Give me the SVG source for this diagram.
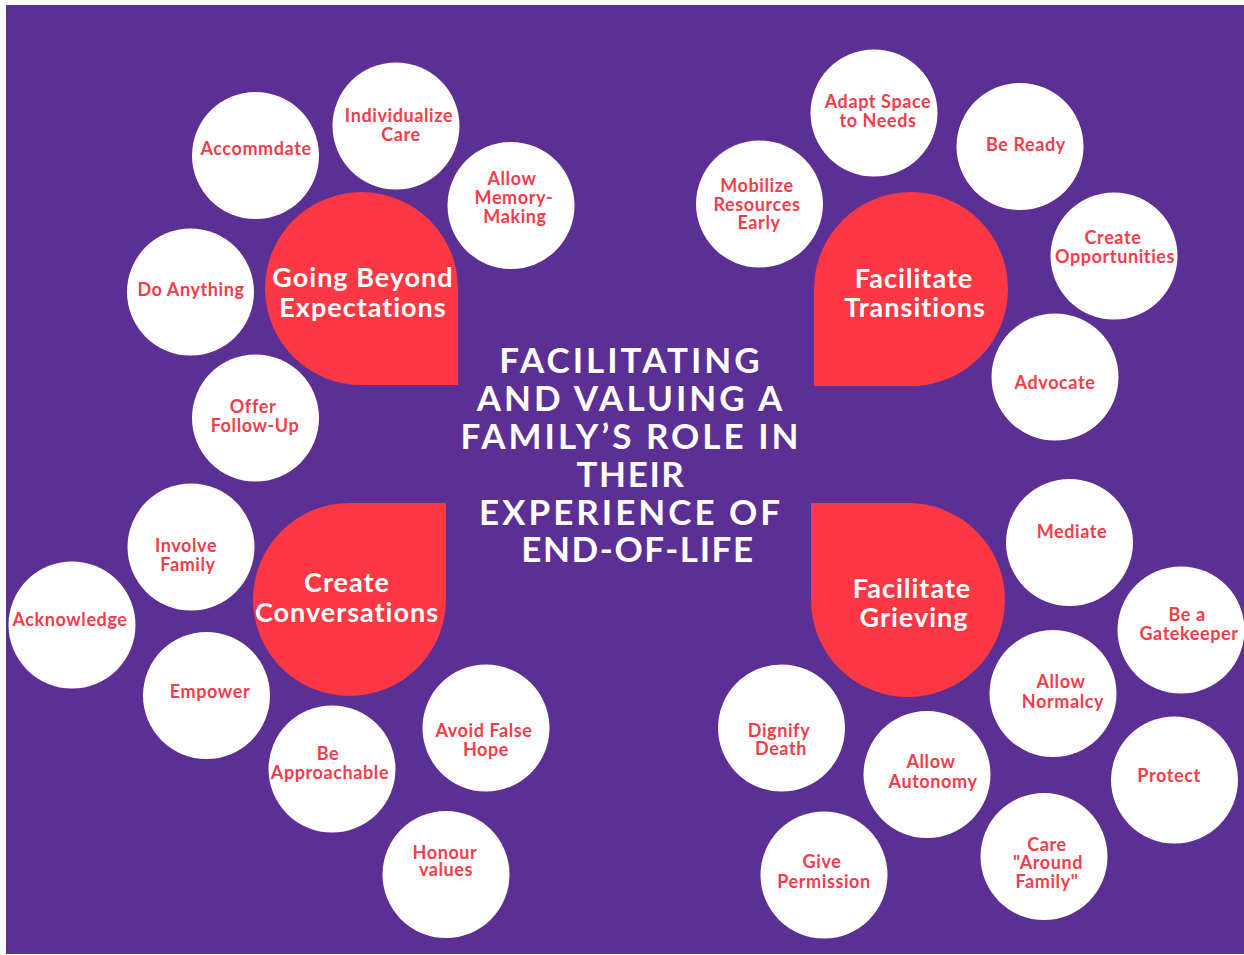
<svg xmlns="http://www.w3.org/2000/svg" width="1244" height="955" viewBox="0 0 1244 955">
  <style>
    .bubble circle { fill: #ffffff; }
    .bubble text { fill: #F33D4B; font-family: Lato, "Liberation Sans", sans-serif; font-weight: 700; font-size: 18px; text-anchor: middle; letter-spacing: 0.6px; }
    .hub path { fill: #FB3844; }
    .hub text { fill: #ffffff; font-family: Lato, "Liberation Sans", sans-serif; font-weight: 700; font-size: 27px; text-anchor: middle; letter-spacing: 1px; }
    .title text { fill: #ffffff; font-family: Lato, "Liberation Sans", sans-serif; font-weight: 700; font-size: 35px; text-anchor: middle; letter-spacing: 3px; }
    .title text.tight { letter-spacing: 1.6px; }
  </style>

  <!-- page background -->
  <rect x="0" y="0" width="1244" height="955" fill="#ffffff"/>
  <rect x="6" y="5" width="1238" height="949" fill="#5B2F94"/>

  <!-- central title -->
  <g id="title" class="title">
    <text x="631" y="373">FACILITATING</text>
    <text x="631" y="411">AND VALUING A</text>
    <text x="631" y="449">FAMILY’S ROLE IN</text>
    <text x="631" y="487" class="tight">THEIR</text>
    <text x="631" y="525">EXPERIENCE OF</text>
    <text x="638" y="562" class="tight">END-OF-LIFE</text>
  </g>

  <!-- four theme hubs (teardrop shapes, one square corner facing the title) -->
  <g id="hub-going-beyond" class="hub">
    <path d="M265 288.5 A96.5 96.5 0 0 1 458 288.5 L458 385 L361.5 385 A96.5 96.5 0 0 1 265 288.5 Z"/>
    <text x="363" y="287">Going Beyond</text>
    <text x="363" y="317">Expectations</text>
  </g>
  <g id="hub-transitions" class="hub">
    <path d="M814 289 A97 97 0 0 1 1008 289 A97 97 0 0 1 911 386 L814 386 Z"/>
    <text x="914" y="288">Facilitate</text>
    <text x="915" y="317">Transitions</text>
  </g>
  <g id="hub-conversations" class="hub">
    <path d="M253 599.5 A96.5 96.5 0 0 1 349.5 503 L446 503 L446 599.5 A96.5 96.5 0 0 1 253 599.5 Z"/>
    <text x="347" y="592">Create</text>
    <text x="347" y="622">Conversations</text>
  </g>
  <g id="hub-grieving" class="hub">
    <path d="M811 503 L908 503 A97 97 0 0 1 1005 600 A97 97 0 0 1 811 600 Z"/>
    <text x="912" y="598">Facilitate</text>
    <text x="914" y="627">Grieving</text>
  </g>

  <!-- Going Beyond Expectations -->
  <g id="accommdate" class="bubble">
    <circle cx="255.5" cy="155.5" r="63.5"/>
    <text x="256" y="155">Accommdate</text>
  </g>
  <g id="individualize-care" class="bubble">
    <circle cx="396" cy="126" r="63.5"/>
    <text x="399" y="122">Individualize</text>
    <text x="401" y="141">Care</text>
  </g>
  <g id="allow-memory-making" class="bubble">
    <circle cx="511" cy="205.5" r="63.5"/>
    <text x="512" y="185">Allow</text>
    <text x="514" y="204">Memory-</text>
    <text x="515" y="223">Making</text>
  </g>
  <g id="do-anything" class="bubble">
    <circle cx="190.5" cy="292" r="63.5"/>
    <text x="191" y="296">Do Anything</text>
  </g>
  <g id="offer-follow-up" class="bubble">
    <circle cx="255.5" cy="418" r="63.5"/>
    <text x="253" y="413">Offer</text>
    <text x="255" y="432">Follow-Up</text>
  </g>

  <!-- Facilitate Transitions -->
  <g id="adapt-space" class="bubble">
    <circle cx="874" cy="113" r="63.5"/>
    <text x="878" y="108">Adapt Space</text>
    <text x="878" y="127">to Needs</text>
  </g>
  <g id="be-ready" class="bubble">
    <circle cx="1020" cy="146.5" r="63.5"/>
    <text x="1026" y="151">Be Ready</text>
  </g>
  <g id="mobilize-resources" class="bubble">
    <circle cx="759.5" cy="204" r="63.5"/>
    <text x="757" y="192">Mobilize</text>
    <text x="757" y="211">Resources</text>
    <text x="759" y="229">Early</text>
  </g>
  <g id="create-opportunities" class="bubble">
    <circle cx="1114" cy="256" r="63.5"/>
    <text x="1113" y="244">Create</text>
    <text x="1115" y="263">Opportunities</text>
  </g>
  <g id="advocate" class="bubble">
    <circle cx="1055" cy="377" r="63.5"/>
    <text x="1055" y="389">Advocate</text>
  </g>

  <!-- Create Conversations -->
  <g id="involve-family" class="bubble">
    <circle cx="191" cy="547" r="63.5"/>
    <text x="186" y="552">Involve</text>
    <text x="188" y="571">Family</text>
  </g>
  <g id="acknowledge" class="bubble">
    <circle cx="72" cy="625" r="63.5"/>
    <text x="70" y="626">Acknowledge</text>
  </g>
  <g id="empower" class="bubble">
    <circle cx="206.5" cy="695.5" r="63.5"/>
    <text x="210" y="698">Empower</text>
  </g>
  <g id="be-approachable" class="bubble">
    <circle cx="332" cy="769" r="63.5"/>
    <text x="328" y="760">Be</text>
    <text x="330" y="779">Approachable</text>
  </g>
  <g id="avoid-false-hope" class="bubble">
    <circle cx="486" cy="728" r="63.5"/>
    <text x="484" y="737">Avoid False</text>
    <text x="486" y="756">Hope</text>
  </g>
  <g id="honour-values" class="bubble">
    <circle cx="446" cy="874.5" r="63.5"/>
    <text x="445" y="859">Honour</text>
    <text x="446" y="876">values</text>
  </g>

  <!-- Facilitate Grieving -->
  <g id="mediate" class="bubble">
    <circle cx="1069.5" cy="542.5" r="63.5"/>
    <text x="1072" y="538">Mediate</text>
  </g>
  <g id="be-a-gatekeeper" class="bubble">
    <circle cx="1181" cy="630" r="63.5"/>
    <text x="1187" y="621">Be a</text>
    <text x="1189" y="640">Gatekeeper</text>
  </g>
  <g id="allow-normalcy" class="bubble">
    <circle cx="1053" cy="693.5" r="63.5"/>
    <text x="1061" y="688">Allow</text>
    <text x="1063" y="708">Normalcy</text>
  </g>
  <g id="dignify-death" class="bubble">
    <circle cx="781.5" cy="728" r="63.5"/>
    <text x="779" y="737">Dignify</text>
    <text x="781" y="755">Death</text>
  </g>
  <g id="allow-autonomy" class="bubble">
    <circle cx="927" cy="774.5" r="63.5"/>
    <text x="931" y="768">Allow</text>
    <text x="933" y="788">Autonomy</text>
  </g>
  <g id="protect" class="bubble">
    <circle cx="1174.5" cy="780" r="63.5"/>
    <text x="1169" y="782">Protect</text>
  </g>
  <g id="care-around-family" class="bubble">
    <circle cx="1044" cy="856.5" r="63.5"/>
    <text x="1047" y="851">Care</text>
    <text x="1048" y="869">"Around</text>
    <text x="1047" y="888">Family"</text>
  </g>
  <g id="give-permission" class="bubble">
    <circle cx="824" cy="875" r="63.5"/>
    <text x="822" y="868">Give</text>
    <text x="824" y="888">Permission</text>
  </g>
</svg>
